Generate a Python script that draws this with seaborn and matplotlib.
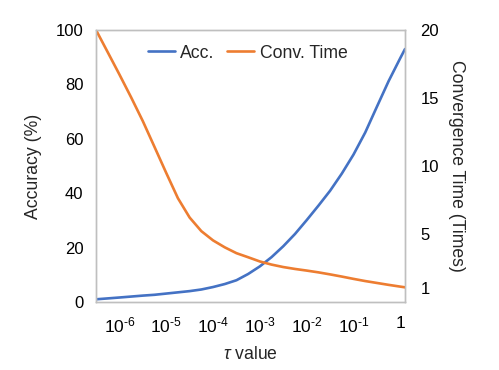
import matplotlib
matplotlib.use("Agg")
import matplotlib.pyplot as plt
import seaborn as sns
import pandas as pd

# log10(tau) sample positions along the curves
log_tau = [-6.5, -6.25, -6.0, -5.75, -5.5, -5.25, -5.0, -4.75, -4.5, -4.25, -4.0, -3.75, -3.5, -3.25,
           -3.0, -2.75, -2.5, -2.25, -2.0, -1.75, -1.5, -1.25, -1.0, -0.75, -0.5, -0.25, 0.0, 0.1]
accuracy = [0.99, 1.32, 1.65, 2.0, 2.35, 2.65, 3.1, 3.55, 4.0, 4.6, 5.5, 6.6, 8.0, 10.3,
            13.1, 16.5, 20.5, 25.0, 30.1, 35.4, 40.9, 47.2, 54.2, 62.3, 71.8, 81.2, 89.7, 93.0]
conv_time = [20.0, 18.37, 16.73, 15.05, 13.3, 11.4, 9.49, 7.63, 6.21, 5.21, 4.53, 4.02, 3.59, 3.29,
             2.98, 2.75, 2.57, 2.43, 2.31, 2.18, 2.03, 1.87, 1.70, 1.54, 1.40, 1.26, 1.13, 1.08]

xtick_pos = [-6, -5, -4, -3, -2, -1, 0]
xtick_labels = ["10$^{\u20106}$", "10$^{\u20105}$", "10$^{\u20104}$", "10$^{\u20103}$",
                "10$^{\u20102}$", "10$^{\u20101}$", "1"]
left_ticks = [0, 20, 40, 60, 80, 100]
right_ticks = [1, 5, 10, 15, 20]

sns.set_style("white")
plt.rcParams["font.family"] = ["Liberation Sans", "DejaVu Sans"]
plt.rcParams["mathtext.fontset"] = "custom"
plt.rcParams["mathtext.rm"] = "Liberation Sans"
plt.rcParams["mathtext.it"] = "Liberation Sans:italic"
plt.rcParams["mathtext.default"] = "rm"

df = pd.DataFrame({"log_tau": log_tau, "acc": accuracy, "conv": conv_time})

blue = "#4472C4"
orange = "#ED7D31"

fig = plt.figure(figsize=(4.99, 3.70), dpi=100)
ax = fig.add_axes([96 / 499, 68 / 370, 309 / 499, 272 / 370])
ax2 = ax.twinx()

sns.lineplot(data=df, x="log_tau", y="acc", ax=ax, color=blue, linewidth=1.9, label="Acc.", legend=False)
sns.lineplot(data=df, x="log_tau", y="conv", ax=ax2, color=orange, linewidth=1.9, label="Conv. Time", legend=False)

ax.set_xlim(-6.5, 0.1)
ax.set_ylim(0, 100)
ax2.set_ylim(0, 20)
ax.set_xticks(xtick_pos)
ax.set_xticklabels(xtick_labels)
ax.set_yticks(left_ticks)
ax2.set_yticks(right_ticks)

for a in (ax, ax2):
    for s in a.spines.values():
        s.set_color("#BFBFBF")
        s.set_linewidth(1.0)
    a.tick_params(length=0, labelsize=12, colors="black")
ax.tick_params(axis="x", pad=10, labelsize=12.5)
ax.tick_params(axis="y", pad=9)
ax2.tick_params(axis="y", pad=11)

ax.set_xlabel(r"$\mathit{\tau}$ value", fontsize=12.7, labelpad=7)
ax.set_ylabel("Accuracy (%)", fontsize=12.7, labelpad=10)
ax2.set_ylabel("Convergence Time (Times)", fontsize=12.7, rotation=270, labelpad=19)

h1, l1 = ax.get_legend_handles_labels()
h2, l2 = ax2.get_legend_handles_labels()
ax2.legend(h1 + h2, l1 + l2, loc="center", bbox_to_anchor=(0.49, 0.915), ncol=2,
           frameon=False, fontsize=12.7, handlelength=1.55, handletextpad=0.3, columnspacing=0.7)

fig.savefig("out.png", dpi=100)
